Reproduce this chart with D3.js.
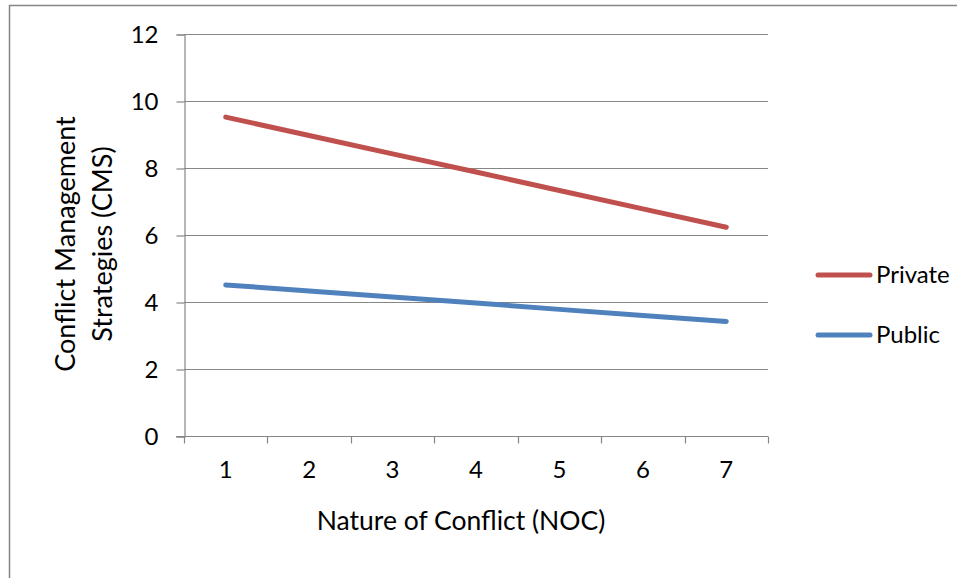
<!DOCTYPE html>
<html>
<head>
<meta charset="utf-8">
<script src="https://cdn.jsdelivr.net/npm/d3@7"></script>
<style>
  body { margin: 0; background: #fff; }
  svg text { font-family: Lato, "Open Sans", sans-serif; fill: #000; }
</style>
</head>
<body>
<div id="chart"></div>
<script>
// data
const categories = ["1", "2", "3", "4", "5", "6", "7"];
const privateValues = [9.52, 8.97, 8.42, 7.88, 7.33, 6.78, 6.23];
const publicValues = [4.51, 4.33, 4.15, 3.97, 3.78, 3.60, 3.42];
const yTicks = [0, 2, 4, 6, 8, 10, 12];
const seriesNames = ["Private", "Public"];
const seriesColors = ["#C0504D", "#4F81BD"];

const W = 957, H = 578;
const plot = {left: 184, right: 768, top: 34, bottom: 436};

const svg = d3.select("#chart")
    .append("svg")
    .attr("width", W)
    .attr("height", H);

// outer frame (left + top only are visible)
svg.append("path")
    .attr("d", `M9.5,${H} V5.5 H${W}`)
    .attr("fill", "none")
    .attr("stroke", "#868686")
    .attr("stroke-width", 1.5);

const x = d3.scaleBand()
    .domain(categories)
    .range([plot.left, plot.right])
    .padding(0);

const y = d3.scaleLinear()
    .domain([0, 12])
    .range([plot.bottom, plot.top]);

// gridlines
svg.append("g")
    .selectAll("line")
    .data(yTicks.filter(d => d > 0))
    .join("line")
    .attr("x1", plot.left)
    .attr("x2", plot.right)
    .attr("y1", d => Math.round(y(d)) + 0.5)
    .attr("y2", d => Math.round(y(d)) + 0.5)
    .attr("stroke", "#868686")
    .attr("stroke-width", 1.2);

// y axis
const yAxis = svg.append("g")
    .attr("transform", `translate(${plot.left + 0.5},0.5)`)
    .call(d3.axisLeft(y).tickValues(yTicks).tickSize(8).tickPadding(18));
yAxis.select(".domain").attr("stroke", "#868686").attr("stroke-width", 1.2);
yAxis.selectAll(".tick line").attr("stroke", "#868686").attr("stroke-width", 1.2);
yAxis.selectAll(".tick text").style("font-size", "24px");

// x axis, ticks at band edges
const xAxis = svg.append("g")
    .attr("transform", `translate(0,${plot.bottom + 0.5})`);
xAxis.append("line")
    .attr("x1", plot.left - 8)
    .attr("x2", plot.right)
    .attr("stroke", "#868686")
    .attr("stroke-width", 1.2);
const edges = categories.map(c => x(c)).concat([plot.right]);
xAxis.selectAll(".edge")
    .data(edges)
    .join("line")
    .attr("class", "edge")
    .attr("x1", d => Math.round(d) + 0.5)
    .attr("x2", d => Math.round(d) + 0.5)
    .attr("y1", 0)
    .attr("y2", 7)
    .attr("stroke", "#868686")
    .attr("stroke-width", 1.2);
xAxis.selectAll(".lbl")
    .data(categories)
    .join("text")
    .attr("class", "lbl")
    .attr("x", d => x(d) + x.bandwidth() / 2)
    .attr("y", 41)
    .attr("text-anchor", "middle")
    .style("font-size", "24px")
    .text(d => d);

// axis titles
svg.append("text")
    .attr("x", 461)
    .attr("y", 530)
    .attr("text-anchor", "middle")
    .style("font-size", "26.5px")
    .text("Nature of Conflict (NOC)");

const yTitle = svg.append("text")
    .attr("transform", "translate(0,244) rotate(-90)")
    .attr("text-anchor", "middle")
    .style("font-size", "27px");
yTitle.append("tspan").attr("x", 0).attr("y", 75).text("Conflict Management");
yTitle.append("tspan").attr("x", 0).attr("y", 112).text("Strategies (CMS)");

// lines
const line = d3.line()
    .x((d, i) => x(categories[i]) + x.bandwidth() / 2)
    .y(d => y(d));

[privateValues, publicValues].forEach((vals, i) => {
    svg.append("path")
        .datum(vals)
        .attr("d", line)
        .attr("fill", "none")
        .attr("stroke", seriesColors[i])
        .attr("stroke-width", 5)
        .attr("stroke-linecap", "round")
        .attr("stroke-linejoin", "round");
});

// legend
const legend = svg.append("g");
seriesNames.forEach((name, i) => {
    const g = legend.append("g")
        .attr("transform", `translate(0,${275 + i * 60})`);
    g.append("line")
        .attr("x1", 818)
        .attr("x2", 870)
        .attr("stroke", seriesColors[i])
        .attr("stroke-width", 5)
        .attr("stroke-linecap", "round");
    g.append("text")
        .attr("x", 876)
        .attr("y", 0)
        .attr("dy", "0.35em")
        .style("font-size", "24px")
        .text(name);
});
</script>
</body>
</html>
